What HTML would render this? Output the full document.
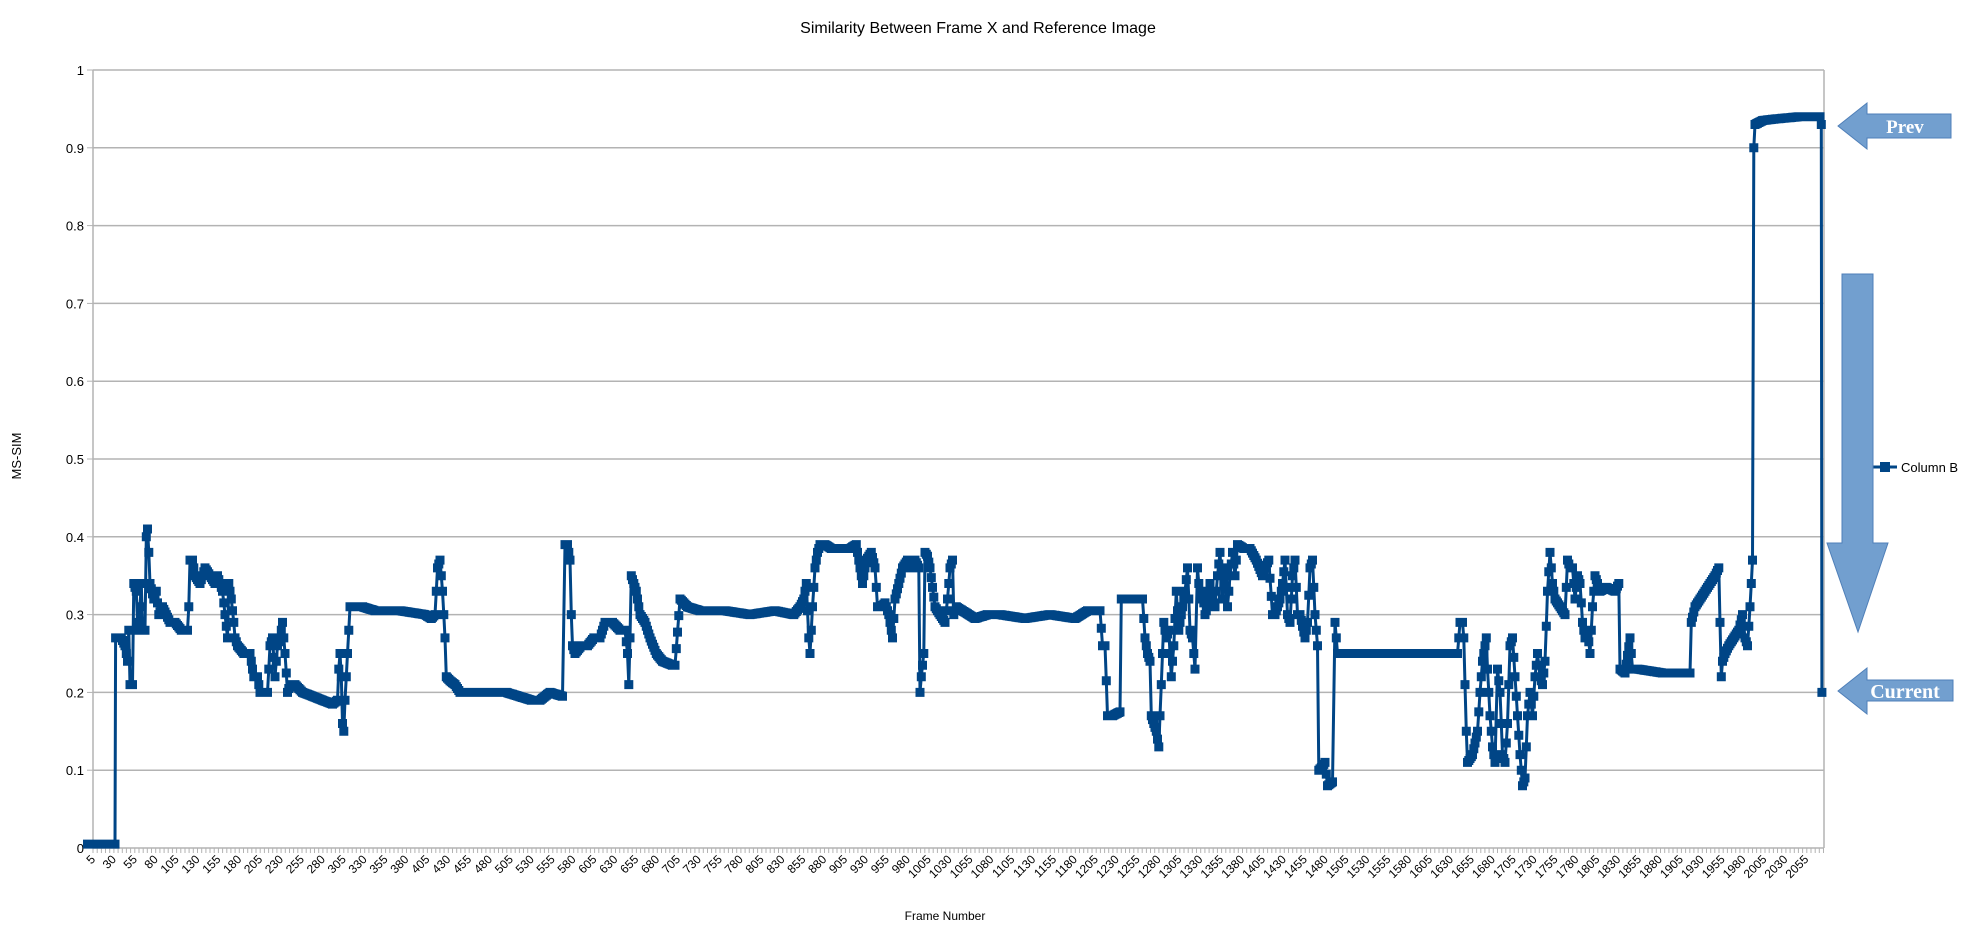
<!DOCTYPE html>
<html><head><meta charset="utf-8"><style>
html,body{margin:0;padding:0;background:#fff;}
svg{display:block;font-family:"Liberation Sans",sans-serif;}
</style></head><body>
<svg id="c" width="1962" height="928" viewBox="0 0 1962 928" xmlns="http://www.w3.org/2000/svg">
<rect width="1962" height="928" fill="#fff"/>
<text x="978" y="33" font-size="16" text-anchor="middle" fill="#000">Similarity Between Frame X and Reference Image</text>
<text x="0" y="0" font-size="13" text-anchor="middle" transform="translate(21,456) rotate(-90)">MS-SIM</text>
<text x="945" y="920" font-size="12" text-anchor="middle">Frame Number</text>
<g id="grid"></g>
<g id="series"></g>
<g id="xl"></g>
<line x1="1872" y1="467" x2="1897" y2="467" stroke="#004586" stroke-width="3"/>
<rect x="1880" y="462" width="10" height="10" fill="#004586"/>
<text x="1901" y="472" font-size="13">Column B</text>
<polygon points="1838,126 1867,103 1867,114 1951,114 1951,138 1867,138 1867,149" fill="#729fcf" stroke="#4f7fb8" stroke-width="1"/>
<text x="1905" y="133" font-size="19" font-weight="bold" fill="#fff" text-anchor="middle" font-family="Liberation Serif,serif">Prev</text>
<polygon points="1842,274 1873,274 1873,543 1888,543 1858,632 1827,543 1842,543" fill="#729fcf" stroke="#4f7fb8" stroke-width="1"/>
<polygon points="1838,691 1867,668 1867,680 1953,680 1953,701 1867,701 1867,714" fill="#729fcf" stroke="#4f7fb8" stroke-width="1"/>
<text x="1905" y="698" font-size="20" font-weight="bold" fill="#fff" text-anchor="middle" font-family="Liberation Serif,serif">Current</text>
</svg>
<script>
(function(){
var L=93,R=1824,T=70,B=848;
function Y(v){return B-(B-T)*v;}
var g=document.getElementById('grid'),h='';
for(var i=0;i<=10;i++){var y=Y(i/10).toFixed(1);
h+='<line x1="'+L+'" y1="'+y+'" x2="'+R+'" y2="'+y+'" stroke="#b3b3b3" stroke-width="1.5"/>';
h+='<line x1="'+(L-6)+'" y1="'+y+'" x2="'+L+'" y2="'+y+'" stroke="#b3b3b3"/>';
var lab=i==0?'0':(i==10?'1':(i/10).toString());
h+='<text x="'+(L-9)+'" y="'+(+y+5)+'" font-size="13" text-anchor="end">'+lab+'</text>';}
h+='<line x1="'+L+'" y1="'+T+'" x2="'+L+'" y2="'+B+'" stroke="#b3b3b3" stroke-width="1.5"/>';
h+='<line x1="'+R+'" y1="'+T+'" x2="'+R+'" y2="'+B+'" stroke="#b3b3b3" stroke-width="1.5"/>';
for(var x=L;x<=R;x+=4.18){h+='<line x1="'+x.toFixed(1)+'" y1="'+B+'" x2="'+x.toFixed(1)+'" y2="'+(B+5)+'" stroke="#b3b3b3"/>';}
g.innerHTML=h;
var xl='';var pf=0.8357;
for(var f=5;f<=2055;f+=25){var x=L+(f-5)*pf+3;
xl+='<text x="0" y="0" font-size="12" text-anchor="end" transform="translate('+x.toFixed(1)+','+(B+12)+') rotate(-45)">'+f+'</text>';}
document.getElementById('xl').innerHTML=xl;
var K=[[70,.005],[92,.005],[92.5,.27],[97,.27],[100,.26],[102,.24],[103,.28],[104,.21],[106,.21],[107,.34],[109,.33],[110,.29],[111,.28],[113,.34],[114,.28],[116,.28],[117,.40],[118,.41],[119,.38],[120,.34],[123,.32],[125,.33],[127,.30],[130,.31],[133,.30],[136,.29],[140,.29],[145,.28],[150,.28],[151,.31],[152,.37],[154,.37],[156,.35],[160,.34],[164,.36],[168,.35],[172,.34],[174,.35],[176,.34],[178,.33],[180,.30],[182,.27],[183,.34],[185,.32],[187,.29],[188,.27],[190,.26],[195,.25],[200,.25],[203,.22],[206,.22],[208,.20],[212,.20],[214,.20],[216,.26],[218,.27],[220,.22],[222,.26],[224,.27],[226,.29],[228,.25],[230,.20],[232,.21],[236,.21],[242,.20],[250,.195],[258,.19],[266,.185],[270,.19],[271,.23],[272,.25],[273,.22],[274,.16],[275,.15],[276,.19],[277,.22],[278,.25],[279,.28],[280,.31],[290,.31],[300,.305],[320,.305],[340,.30],[345,.295],[348,.30],[350,.36],[352,.37],[354,.33],[355,.30],[356,.27],[357,.22],[360,.215],[364,.21],[368,.20],[380,.20],[395,.20],[405,.20],[415,.195],[425,.19],[432,.19],[440,.20],[450,.195],[452,.39],[454,.39],[456,.37],[457,.30],[458,.26],[460,.25],[465,.26],[470,.26],[475,.27],[480,.27],[484,.29],[490,.29],[496,.28],[500,.28],[502,.25],[503,.21],[504,.27],[505,.35],[507,.34],[509,.33],[512,.30],[516,.29],[520,.27],[525,.25],[530,.24],[538,.235],[540,.235],[544,.32],[550,.31],[560,.305],[580,.305],[600,.30],[620,.305],[635,.30],[640,.31],[643,.32],[645,.34],[647,.27],[648,.25],[650,.31],[652,.36],[654,.38],[656,.39],[660,.39],[665,.385],[675,.385],[680,.385],[685,.39],[688,.36],[690,.34],[693,.37],[697,.38],[700,.36],[702,.31],[705,.31],[708,.315],[711,.30],[714,.27],[716,.32],[719,.34],[722,.36],[726,.37],[729,.36],[732,.37],[735,.36],[736,.20],[737,.22],[739,.25],[740,.38],[742,.375],[744,.36],[748,.31],[752,.30],[756,.29],[758,.32],[760,.36],[762,.37],[763,.30],[765,.31],[770,.305],[775,.30],[780,.295],[790,.30],[800,.30],[820,.295],[840,.30],[860,.295],[870,.305],[880,.305],[882,.26],[884,.26],[886,.17],[890,.17],[896,.175],[897,.32],[905,.32],[914,.32],[916,.27],[918,.25],[920,.24],[921,.17],[923,.16],[925,.15],[927,.13],[929,.21],[931,.29],[933,.27],[935,.28],[937,.22],[939,.26],[941,.33],[943,.28],[945,.30],[948,.33],[950,.36],[952,.28],[954,.27],[956,.23],[958,.36],[960,.32],[962,.33],[964,.30],[966,.31],[968,.34],[970,.32],[972,.31],[974,.35],[976,.38],[978,.32],[980,.36],[982,.31],[984,.35],[986,.38],[988,.35],[990,.39],[995,.385],[1000,.385],[1005,.37],[1010,.35],[1012,.36],[1015,.37],[1018,.30],[1020,.30],[1024,.32],[1026,.34],[1028,.37],[1030,.30],[1032,.29],[1034,.35],[1036,.37],[1038,.30],[1040,.30],[1044,.27],[1046,.29],[1048,.36],[1050,.37],[1052,.30],[1054,.26],[1055,.10],[1058,.105],[1060,.11],[1062,.08],[1066,.085],[1068,.29],[1070,.25],[1090,.25],[1120,.25],[1150,.25],[1166,.25],[1168,.29],[1170,.29],[1171,.27],[1172,.21],[1173,.15],[1174,.11],[1178,.12],[1182,.15],[1184,.20],[1186,.24],[1187,.25],[1189,.27],[1190,.23],[1192,.17],[1194,.13],[1196,.11],[1198,.23],[1200,.20],[1202,.12],[1204,.11],[1206,.16],[1208,.26],[1210,.27],[1212,.22],[1214,.17],[1216,.12],[1218,.08],[1220,.09],[1222,.17],[1224,.20],[1226,.17],[1228,.22],[1230,.25],[1232,.22],[1234,.21],[1236,.24],[1238,.33],[1240,.38],[1242,.34],[1244,.32],[1248,.31],[1252,.30],[1254,.37],[1256,.36],[1258,.36],[1260,.32],[1262,.35],[1264,.34],[1266,.29],[1268,.27],[1270,.28],[1272,.25],[1274,.31],[1276,.35],[1278,.34],[1280,.33],[1285,.335],[1292,.33],[1295,.34],[1296,.23],[1300,.225],[1304,.27],[1306,.23],[1310,.23],[1330,.225],[1345,.225],[1352,.225],[1353,.29],[1356,.31],[1360,.32],[1364,.33],[1368,.34],[1372,.35],[1375,.36],[1376,.29],[1377,.22],[1378,.24],[1380,.25],[1383,.26],[1387,.27],[1391,.28],[1394,.30],[1396,.27],[1398,.26],[1400,.31],[1402,.37],[1403,.90],[1404,.93],[1410,.935],[1420,.937],[1440,.94],[1456,.94],[1457,.93],[1457.5,.20]];
var pts=[];
for(var i=0;i<K.length-1;i++){var a=K[i],b=K[i+1];var x0=a[0]*1.25,x1=b[0]*1.25;
var n=Math.max(1,Math.round((x1-x0)/1.2));
if(Math.abs(b[1]-a[1])>0.1)n=1;
for(var j=0;j<n;j++){var t=j/n;pts.push([x0+(x1-x0)*t,a[1]+(b[1]-a[1])*t]);}}
pts.push([K[K.length-1][0]*1.25,K[K.length-1][1]]);
var d='M';var m='';
for(var i=0;i<pts.length;i++){var x=pts[i][0],y=Y(pts[i][1]);d+=(i?' L':'')+x.toFixed(1)+' '+y.toFixed(1);
m+='M'+(x-4.5).toFixed(1)+' '+(y-4.5).toFixed(1)+'h9v9h-9z';}
document.getElementById('series').innerHTML='<path d="'+d+'" fill="none" stroke="#004586" stroke-width="3" stroke-linejoin="round"/><path d="'+m+'" fill="#004586"/>';
})();
</script>
</body></html>
